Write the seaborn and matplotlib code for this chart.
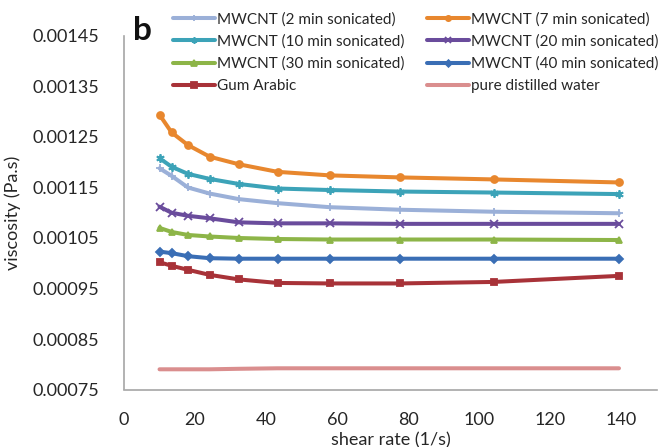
import matplotlib
matplotlib.use("Agg")
import matplotlib.pyplot as plt
import seaborn as sns
import pandas as pd

sns.set_theme(style="white")
plt.rcParams["font.family"] = ["Lato", "DejaVu Sans"]

# Shear rate (1/s)
shear_rate = [10, 13.4, 18, 24.1, 32.3, 43.2, 57.9, 77.6, 104, 139.3]

# Viscosity (Pa.s) for each sample
mwcnt_2 = [0.001188, 0.001173, 0.00115, 0.001138, 0.001127, 0.001119, 0.001111, 0.001106, 0.001102, 0.001099]
mwcnt_7 = [0.001294, 0.001259, 0.001234, 0.001211, 0.001196, 0.001181, 0.001174, 0.00117, 0.001166, 0.00116]
mwcnt_10 = [0.001208, 0.001191, 0.001177, 0.001167, 0.001157, 0.001148, 0.001145, 0.001142, 0.00114, 0.001137]
mwcnt_20 = [0.001112, 0.0011, 0.001094, 0.001089, 0.001081, 0.001079, 0.001079, 0.001078, 0.001078, 0.001078]
mwcnt_30 = [0.00107, 0.001062, 0.001056, 0.001053, 0.00105, 0.001048, 0.001047, 0.001047, 0.001047, 0.001046]
mwcnt_40 = [0.001023, 0.00102, 0.001014, 0.00101, 0.001009, 0.001009, 0.001009, 0.001009, 0.001009, 0.001009]
gum_arabic = [0.001002, 0.000995, 0.000987, 0.000977, 0.000968, 0.000961, 0.00096, 0.00096, 0.000963, 0.000975]
water = [0.00079, 0.00079, 0.00079, 0.00079, 0.000791, 0.000792, 0.000792, 0.000792, 0.000792, 0.000792]

labels = [
    "MWCNT (2 min sonicated)", "MWCNT (7 min sonicated)",
    "MWCNT (10 min sonicated)", "MWCNT (20 min sonicated)",
    "MWCNT (30 min sonicated)", "MWCNT (40 min sonicated)",
    "Gum Arabic", "pure distilled water",
]
values = [mwcnt_2, mwcnt_7, mwcnt_10, mwcnt_20, mwcnt_30, mwcnt_40, gum_arabic, water]
colors = ["#9BB0D8", "#E8872E", "#3CA3B8", "#6A4C9C", "#8DB548", "#3A6EB5", "#A83238", "#DA8E8E"]
markers = ["+", "o", (6, 2, 0), "x", "^", "D", "s", None]
msizes = [6, 5, 6, 6, 5, 4.5, 5, 0]

df = pd.DataFrame({
    "shear rate": [x for _ in labels for x in shear_rate],
    "viscosity": [v for vals in values for v in vals],
    "sample": [lab for lab in labels for _ in shear_rate],
})

fig = plt.figure(figsize=(6.6, 4.47), dpi=100)
ax = fig.add_axes([124 / 660, 1 - 389.5 / 447, (657 - 124) / 660, (389.5 - 36) / 447])

for lab, col, mk, ms in zip(labels, colors, markers, msizes):
    sub = df[df["sample"] == lab]
    kw = dict(marker=mk, markersize=ms, markeredgewidth=1.3,
              markeredgecolor=col) if mk is not None else {}
    sns.lineplot(data=sub, x="shear rate", y="viscosity", ax=ax, color=col,
                 linewidth=2.9, label=lab, **kw)

ax.set_xlim(0, 150)
ax.set_ylim(0.00075, 0.00145)
ax.set_xticks([0, 20, 40, 60, 80, 100, 120, 140])
ax.set_yticks([0.00075, 0.00085, 0.00095, 0.00105, 0.00115, 0.00125, 0.00135, 0.00145])
ax.set_yticklabels(["0.00075", "0.00085", "0.00095", "0.00105", "0.00115", "0.00125", "0.00135", "0.00145"])
ax.tick_params(axis="both", length=0, labelsize=13, colors="#262626")
ax.tick_params(axis="y", pad=18)
ax.tick_params(axis="x", pad=16)
for side in ["top", "right"]:
    ax.spines[side].set_visible(False)
for side in ["left", "bottom"]:
    ax.spines[side].set_color("#A6A6A6")
    ax.spines[side].set_linewidth(1.2)

ax.set_xlabel("shear rate (1/s)", fontsize=13, color="#262626", labelpad=3)
ax.set_ylabel("viscosity (Pa.s)", fontsize=13, color="#262626", labelpad=8)

h, l = ax.get_legend_handles_labels()
ax.get_legend().remove()
order = [0, 2, 4, 6, 1, 3, 5, 7]
fig.legend([h[i] for i in order], [l[i] for i in order], loc="upper left",
           bbox_to_anchor=(173 / 660, 1 - 12 / 447), ncol=2, frameon=False,
           fontsize=11, handlelength=2.75, handletextpad=0.15, markerscale=0.75,
           columnspacing=1.45, labelspacing=0.52, borderpad=0, borderaxespad=0,
           labelcolor="#262626")

fig.text(133 / 660, 1 - 30 / 447, "b", fontsize=24, fontweight="bold",
         va="center", ha="left", color="#111111")

fig.savefig("out.png", dpi=100)
